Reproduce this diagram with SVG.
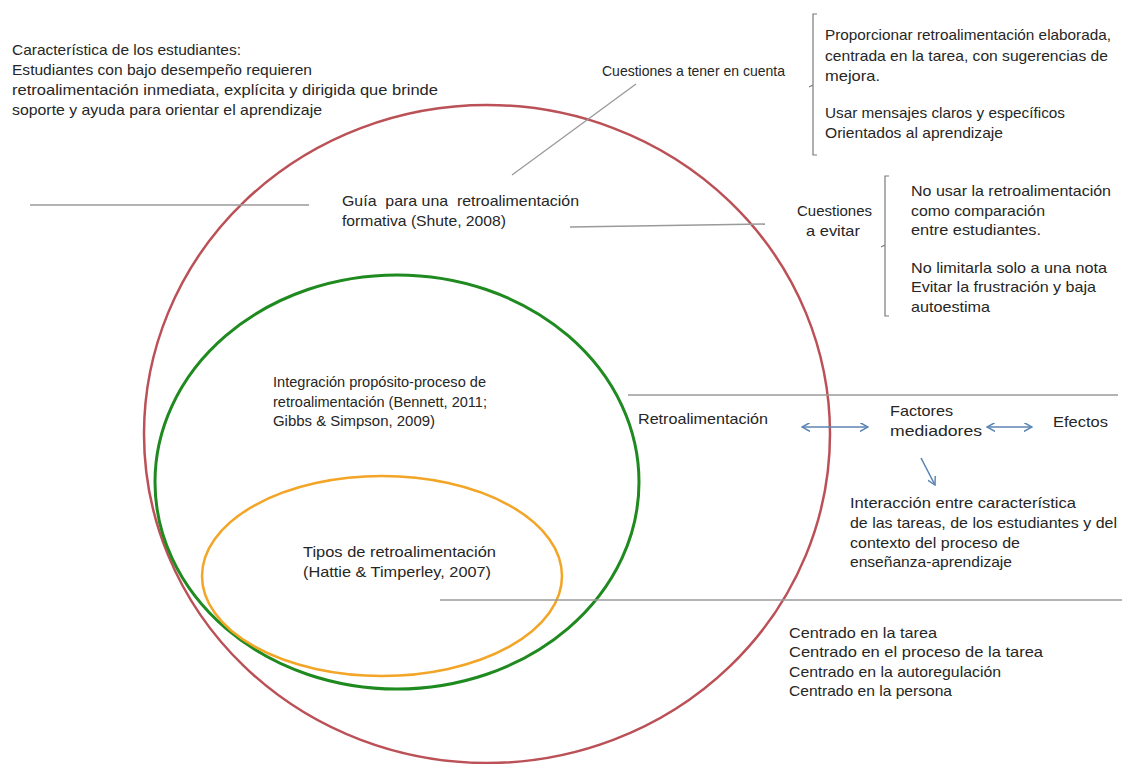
<svg xmlns="http://www.w3.org/2000/svg" width="1126" height="764" viewBox="0 0 1126 764">
<defs>
<style>
text{font-family:"Liberation Sans",Arial,sans-serif;font-size:15px;fill:#262626}
.pre{white-space:pre}
.ln{stroke:#9a9a9a;stroke-width:1.3;fill:none}
.br{stroke:#7a7a7a;stroke-width:1.2;fill:none}
.ar{stroke:#5b85b5;stroke-width:1.6;fill:none}
</style>
<marker id="ah" viewBox="0 0 10 10" refX="9" refY="5" markerWidth="9" markerHeight="9" markerUnits="userSpaceOnUse" orient="auto-start-reverse">
<path d="M0,0 L9,5 L0,10" fill="none" stroke="#5b85b5" stroke-width="1.6"/>
</marker>
</defs>
<rect width="1126" height="764" fill="#ffffff"/>
<g id="red-ellipse"><ellipse cx="487" cy="434" rx="343" ry="329" fill="none" stroke="#bb5157" stroke-width="2.5"/></g>
<g id="green-ellipse"><ellipse cx="397" cy="482" rx="242" ry="207" fill="none" stroke="#1f8a1f" stroke-width="3"/></g>
<g id="orange-ellipse"><ellipse cx="382" cy="576" rx="180" ry="100" fill="none" stroke="#f2a526" stroke-width="2.5"/></g>
<g id="connectors">
<line class="ln" x1="30" y1="205" x2="309" y2="205"/>
<line class="ln" x1="512" y1="175" x2="636" y2="84"/>
<line class="ln" x1="570" y1="227" x2="765" y2="224"/>
<line class="ln" x1="628" y1="395" x2="1118" y2="395"/>
<line class="ln" x1="440" y1="600" x2="1122" y2="600"/>
<path class="br" d="M817,14 L813,14 L813,155 L817,155 M813,85 L809,87"/>
<path class="br" d="M889,176 L885,176 L885,316 L889,316 M885,245 L881,247"/>
<line class="ar" x1="802" y1="427" x2="868" y2="427" marker-start="url(#ah)" marker-end="url(#ah)"/>
<line class="ar" x1="987" y1="427" x2="1032" y2="427" marker-start="url(#ah)" marker-end="url(#ah)"/>
<line class="ar" x1="921" y1="458" x2="935" y2="485" marker-end="url(#ah)"/>
</g>
<g id="estudiantes">
<text x="12" y="55" textLength="229" lengthAdjust="spacingAndGlyphs">Característica de los estudiantes:</text>
<text x="12" y="75" textLength="300" lengthAdjust="spacingAndGlyphs">Estudiantes con bajo desempeño requieren</text>
<text x="12" y="95" textLength="426" lengthAdjust="spacingAndGlyphs">retroalimentación inmediata, explícita y dirigida que brinde</text>
<text x="12" y="115" textLength="310" lengthAdjust="spacingAndGlyphs">soporte y ayuda para orientar el aprendizaje</text>
</g>
<g id="cuestiones-cuenta">
<text x="602" y="76" textLength="183" lengthAdjust="spacingAndGlyphs">Cuestiones a tener en cuenta</text>
</g>
<g id="sugerencias">
<text x="825" y="40" textLength="286" lengthAdjust="spacingAndGlyphs">Proporcionar retroalimentación elaborada,</text>
<text x="825" y="61" textLength="283" lengthAdjust="spacingAndGlyphs">centrada en la tarea, con sugerencias de</text>
<text x="825" y="81" textLength="55" lengthAdjust="spacingAndGlyphs">mejora.</text>
<text x="825" y="118" textLength="240" lengthAdjust="spacingAndGlyphs">Usar mensajes claros y específicos</text>
<text x="825" y="138" textLength="178" lengthAdjust="spacingAndGlyphs">Orientados al aprendizaje</text>
</g>
<g id="guia">
<text class="pre" x="342" y="206" textLength="237" lengthAdjust="spacingAndGlyphs">Guía  para una  retroalimentación</text>
<text x="342" y="226" textLength="164" lengthAdjust="spacingAndGlyphs">formativa (Shute, 2008)</text>
</g>
<g id="cuestiones-evitar">
<text x="797" y="216" textLength="75" lengthAdjust="spacingAndGlyphs">Cuestiones</text>
<text x="806" y="236" textLength="54" lengthAdjust="spacingAndGlyphs">a evitar</text>
</g>
<g id="evitar-items">
<text x="911" y="196" textLength="200" lengthAdjust="spacingAndGlyphs">No usar la retroalimentación</text>
<text x="911" y="216" textLength="134" lengthAdjust="spacingAndGlyphs">como comparación</text>
<text x="911" y="235" textLength="130" lengthAdjust="spacingAndGlyphs">entre estudiantes.</text>
<text x="911" y="273" textLength="196" lengthAdjust="spacingAndGlyphs">No limitarla solo a una nota</text>
<text x="911" y="292" textLength="185" lengthAdjust="spacingAndGlyphs">Evitar la frustración y baja</text>
<text x="911" y="312" textLength="79" lengthAdjust="spacingAndGlyphs">autoestima</text>
</g>
<g id="integracion">
<text x="273" y="387" textLength="213" lengthAdjust="spacingAndGlyphs">Integración propósito-proceso de</text>
<text x="273" y="407" textLength="214" lengthAdjust="spacingAndGlyphs">retroalimentación (Bennett, 2011;</text>
<text x="273" y="426" textLength="162" lengthAdjust="spacingAndGlyphs">Gibbs &amp; Simpson, 2009)</text>
</g>
<g id="retroalimentacion"><text x="638" y="424" textLength="130" lengthAdjust="spacingAndGlyphs">Retroalimentación</text></g>
<g id="factores">
<text x="890" y="416" textLength="63" lengthAdjust="spacingAndGlyphs">Factores</text>
<text x="890" y="436" textLength="92" lengthAdjust="spacingAndGlyphs">mediadores</text>
</g>
<g id="efectos"><text x="1053" y="427" textLength="55" lengthAdjust="spacingAndGlyphs">Efectos</text></g>
<g id="interaccion">
<text x="850" y="508" textLength="226" lengthAdjust="spacingAndGlyphs">Interacción entre característica</text>
<text x="850" y="528" textLength="267" lengthAdjust="spacingAndGlyphs">de las tareas, de los estudiantes y del</text>
<text x="850" y="548" textLength="170" lengthAdjust="spacingAndGlyphs">contexto del proceso de</text>
<text x="850" y="567" textLength="162" lengthAdjust="spacingAndGlyphs">enseñanza-aprendizaje</text>
</g>
<g id="tipos">
<text x="303" y="557" textLength="193" lengthAdjust="spacingAndGlyphs">Tipos de retroalimentación</text>
<text x="303" y="577" textLength="188" lengthAdjust="spacingAndGlyphs">(Hattie &amp; Timperley, 2007)</text>
</g>
<g id="centrado">
<text x="789" y="638" textLength="148" lengthAdjust="spacingAndGlyphs">Centrado en la tarea</text>
<text x="789" y="657" textLength="254" lengthAdjust="spacingAndGlyphs">Centrado en el proceso de la tarea</text>
<text x="789" y="677" textLength="212" lengthAdjust="spacingAndGlyphs">Centrado en la autoregulación</text>
<text x="789" y="696" textLength="163" lengthAdjust="spacingAndGlyphs">Centrado en la persona</text>
</g>
</svg>
